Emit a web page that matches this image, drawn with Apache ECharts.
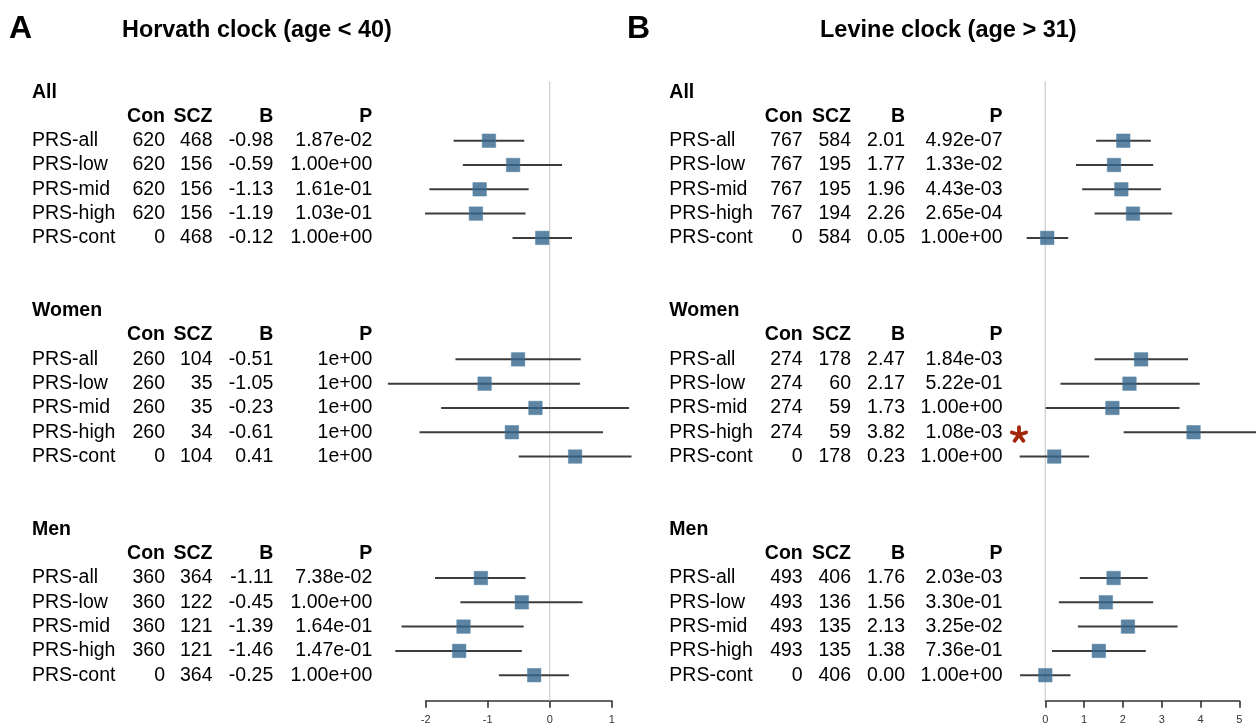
<!DOCTYPE html>
<html><head><meta charset="utf-8">
<script src="https://cdn.jsdelivr.net/npm/echarts@6/dist/echarts.min.js"></script>
<style>html,body{margin:0;padding:0;background:#fff}#c{width:1256px;height:728px}</style>
</head><body><div id="c"></div>
<script>
// ---------- data ----------
const groups = ['All', 'Women', 'Men'];
const prsLabels = ['PRS-all', 'PRS-low', 'PRS-mid', 'PRS-high', 'PRS-cont'];
const colHeaders = ['Con', 'SCZ', 'B', 'P'];
const panelLetters = ['A', 'B'];
const panelTitles = ['Horvath clock (age < 40)', 'Levine clock (age > 31)'];
const ticksA = [-2, -1, 0, 1];
const ticksB = [0, 1, 2, 3, 4, 5];

// Horvath (panel A), 15 rows: All x5, Women x5, Men x5
const hCon = [620, 620, 620, 620, 0, 260, 260, 260, 260, 0, 360, 360, 360, 360, 0];
const hScz = [468, 156, 156, 156, 468, 104, 35, 35, 34, 104, 364, 122, 121, 121, 364];
const hB = [-0.98, -0.59, -1.13, -1.19, -0.12, -0.51, -1.05, -0.23, -0.61, 0.41, -1.11, -0.45, -1.39, -1.46, -0.25];
const hP = ['1.87e-02', '1.00e+00', '1.61e-01', '1.03e-01', '1.00e+00', '1e+00', '1e+00', '1e+00', '1e+00', '1e+00', '7.38e-02', '1.00e+00', '1.64e-01', '1.47e-01', '1.00e+00'];
const hLo = [-1.55, -1.40, -1.94, -2.01, -0.60, -1.52, -2.61, -1.75, -2.10, -0.50, -1.85, -1.44, -2.39, -2.49, -0.82];
const hHi = [-0.41, 0.20, -0.34, -0.39, 0.36, 0.50, 0.49, 1.28, 0.86, 1.32, -0.39, 0.53, -0.42, -0.45, 0.31];

// Levine (panel B)
const lCon = [767, 767, 767, 767, 0, 274, 274, 274, 274, 0, 493, 493, 493, 493, 0];
const lScz = [584, 195, 195, 194, 584, 178, 60, 59, 59, 178, 406, 136, 135, 135, 406];
const lB = [2.01, 1.77, 1.96, 2.26, 0.05, 2.47, 2.17, 1.73, 3.82, 0.23, 1.76, 1.56, 2.13, 1.38, 0.00];
const lP = ['4.92e-07', '1.33e-02', '4.43e-03', '2.65e-04', '1.00e+00', '1.84e-03', '5.22e-01', '1.00e+00', '1.08e-03', '1.00e+00', '2.03e-03', '3.30e-01', '3.25e-02', '7.36e-01', '1.00e+00'];
const lLo = [1.31, 0.79, 0.95, 1.27, -0.48, 1.27, 0.39, 0.01, 2.02, -0.66, 0.89, 0.35, 0.84, 0.17, -0.65];
const lHi = [2.72, 2.78, 2.98, 3.27, 0.59, 3.68, 3.98, 3.46, 5.62, 1.13, 2.64, 2.78, 3.41, 2.59, 0.65];
const lSig = [0, 0, 0, 0, 0, 0, 0, 0, 1, 0, 0, 0, 0, 0, 0];

// ---------- layout / style ----------
const FONT = '"Liberation Sans", Arial, Helvetica, sans-serif';
const TXT = 19.5;
const Y_MIN = -2.45, Y_MAX = 23.05;
const GRID_TOP = 81.2, GRID_H = 619.5;
const rowOf = i => Math.floor(i / 5) * 9 + (i % 5);

// pixel columns [labelLeft, conRight, sczRight, bRight, pRight]
const colsA = [32, 165, 212.5, 273.3, 372.3];
const colsB = [669.3, 802.7, 851, 905, 1002.5];

function fmtB(v) { return v.toFixed(2); }

function tableRender(cols, con, scz, b, p, sig) {
  return function (params, api) {
    const i = api.value(2);
    const y = api.coord([0, api.value(1)])[1];
    const t = (txt, x, align) => ({
      type: 'text', x: x, y: y,
      style: { text: txt, fill: '#000', font: TXT + 'px ' + FONT, align: align, verticalAlign: 'middle' }
    });
    const children = [
      t(prsLabels[i % 5], cols[0], 'left'),
      t(String(con[i]), cols[1], 'right'),
      t(String(scz[i]), cols[2], 'right'),
      t(fmtB(b[i]), cols[3], 'right'),
      t(p[i], cols[4], 'right')
    ];
    if (sig && sig[i]) {
      const cx = cols[4] + 16.5, cy = y + 2.5, L = 7.5;
      for (let k = 0; k < 5; k++) {
        const a = (-90 + 72 * k) * Math.PI / 180;
        children.push({
          type: 'line',
          shape: { x1: cx, y1: cy, x2: cx + L * Math.cos(a), y2: cy + L * Math.sin(a) },
          style: { stroke: '#a3260b', lineWidth: 3.8, lineCap: 'round' }
        });
      }
    }
    return { type: 'group', children: children };
  };
}

function headerRender(cols) {
  return function (params, api) {
    const g = api.value(2);
    const yT = api.coord([0, 9 * g - 2])[1];
    const yH = api.coord([0, 9 * g - 1])[1];
    const bold = TXT + 'px ' + FONT;
    const mk = (txt, x, y, align) => ({
      type: 'text', x: x, y: y,
      style: { text: txt, fill: '#000', font: 'bold ' + bold, align: align, verticalAlign: 'middle' }
    });
    return {
      type: 'group', children: [
        mk(groups[g], cols[0], yT, 'left'),
        mk(colHeaders[0], cols[1], yH, 'right'),
        mk(colHeaders[1], cols[2], yH, 'right'),
        mk(colHeaders[2], cols[3], yH, 'right'),
        mk(colHeaders[3], cols[4], yH, 'right')
      ]
    };
  };
}

function errRender(params, api) {
  const r = api.value(2);
  const p1 = api.coord([api.value(0), r]);
  const p2 = api.coord([api.value(1), r]);
  return {
    type: 'line', shape: { x1: p1[0], y1: p1[1], x2: p2[0], y2: p2[1] },
    style: { stroke: '#3c3c3c', lineWidth: 2 }
  };
}

function zeroRender(params, api) {
  const p1 = api.coord([0, Y_MIN]);
  const p2 = api.coord([0, Y_MAX]);
  return {
    type: 'line', shape: { x1: p1[0], y1: p1[1], x2: p2[0], y2: p2[1] },
    style: { stroke: '#d2d2d2', lineWidth: 1.3 }
  };
}

function panelSeries(idx, lo, hi, b, con, scz, p, sig, cols) {
  const errData = lo.map((v, i) => [v, hi[i], rowOf(i)]);
  const ptData = b.map((v, i) => [v, rowOf(i)]);
  const txtData = b.map((v, i) => [0, rowOf(i), i]);
  const hdrData = groups.map((g, k) => [0, 9 * k - 1, k]);
  return [
    { type: 'custom', xAxisIndex: idx, yAxisIndex: idx, clip: false, silent: true, z: 1,
      renderItem: zeroRender, data: [[0, 0]], encode: { x: 0, y: 1 } },
    { type: 'custom', xAxisIndex: idx, yAxisIndex: idx, clip: false, silent: true, z: 2,
      renderItem: errRender, data: errData, encode: { x: [0, 1], y: 2 } },
    { type: 'scatter', xAxisIndex: idx, yAxisIndex: idx, clip: false, silent: true, z: 3,
      symbol: 'rect', symbolSize: 13.5, data: ptData,
      itemStyle: { color: '#35668c', borderColor: '#4f7ea2', borderWidth: 0.6 } },
    { type: 'custom', xAxisIndex: idx, yAxisIndex: idx, clip: false, silent: true, z: 4,
      renderItem: tableRender(cols, con, scz, b, p, sig), data: txtData, encode: { x: 0, y: 1 } },
    { type: 'custom', xAxisIndex: idx, yAxisIndex: idx, clip: false, silent: true, z: 4,
      renderItem: headerRender(cols), data: hdrData, encode: { x: 0, y: 1 } }
  ];
}

const axisCommon = {
  type: 'value', interval: 1,
  axisLine: { show: true, onZero: false, lineStyle: { color: '#333', width: 1.6 } },
  axisTick: { show: true, length: 7, lineStyle: { color: '#333', width: 1.6 } },
  axisLabel: { fontSize: 11, color: '#333', margin: 14, fontFamily: FONT },
  splitLine: { show: false }
};
const yCommon = { type: 'value', min: Y_MIN, max: Y_MAX, inverse: true, show: false };

const chart = echarts.init(document.getElementById('c'), null, { renderer: 'canvas' });
chart.setOption({
  backgroundColor: '#fff',
  animation: false,
  grid: [
    { left: 425.7, top: GRID_TOP, width: 186, height: GRID_H },
    { left: 1045.3, top: GRID_TOP, width: 194, height: GRID_H }
  ],
  xAxis: [
    Object.assign({}, axisCommon, { gridIndex: 0, min: ticksA[0], max: ticksA[ticksA.length - 1] }),
    Object.assign({}, axisCommon, { gridIndex: 1, min: ticksB[0], max: ticksB[ticksB.length - 1] })
  ],
  yAxis: [
    Object.assign({}, yCommon, { gridIndex: 0 }),
    Object.assign({}, yCommon, { gridIndex: 1 })
  ],
  graphic: [
    { type: 'text', x: 9, y: 29, style: { text: panelLetters[0], font: 'bold 32px ' + FONT, fill: '#000', verticalAlign: 'middle' } },
    { type: 'text', x: 122, y: 31, style: { text: panelTitles[0], font: 'bold 23.4px ' + FONT, fill: '#000', verticalAlign: 'middle' } },
    { type: 'text', x: 627, y: 29, style: { text: panelLetters[1], font: 'bold 32px ' + FONT, fill: '#000', verticalAlign: 'middle' } },
    { type: 'text', x: 820, y: 31, style: { text: panelTitles[1], font: 'bold 23.5px ' + FONT, fill: '#000', verticalAlign: 'middle' } }
  ],
  series: [].concat(
    panelSeries(0, hLo, hHi, hB, hCon, hScz, hP, null, colsA),
    panelSeries(1, lLo, lHi, lB, lCon, lScz, lP, lSig, colsB)
  )
});
</script></body></html>
